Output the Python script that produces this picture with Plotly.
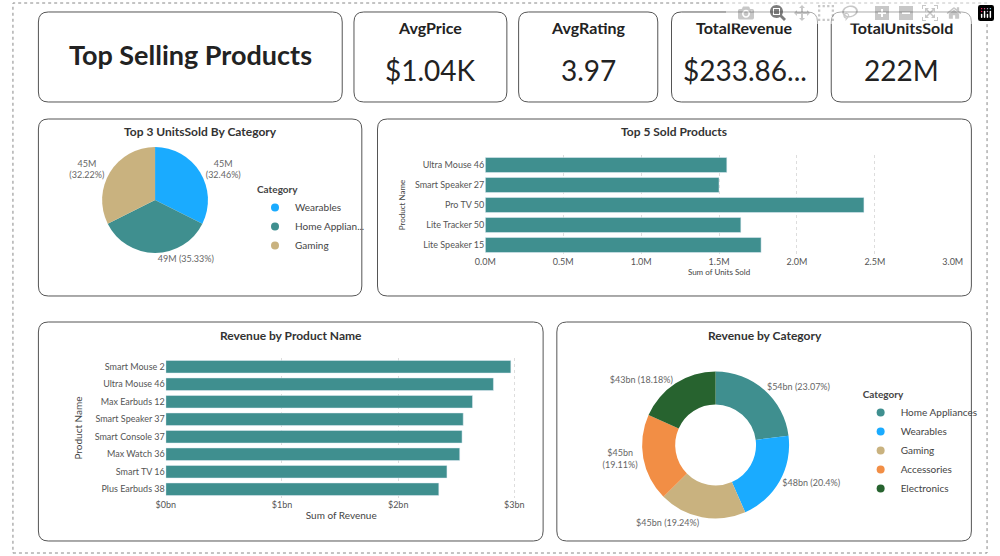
import plotly.graph_objects as go

W, H = 1000, 556
pie_labels = ["Wearables", "Home Appliances", "Gaming"]
pie_legend = ["Wearables", "Home Applian...", "Gaming"]
pie_values = [45, 49, 45]
pie_text = ["45M<br>(32.46%)", "49M (35.33%)", "45M<br>(32.22%)"]
pie_colors = ["#1AABFF", "#3F8F8F", "#C9B27F"]

top5_products = ["Ultra Mouse 46", "Smart Speaker 27", "Pro TV 50", "Lite Tracker 50", "Lite Speaker 15"]
top5_units = [1.55, 1.50, 2.43, 1.64, 1.77]
top5_ticks = [0, 0.5, 1.0, 1.5, 2.0, 2.5, 3.0]
top5_ticktext = ["0.0M", "0.5M", "1.0M", "1.5M", "2.0M", "2.5M", "3.0M"]

rev_products = ["Smart Mouse 2", "Ultra Mouse 46", "Max Earbuds 12", "Smart Speaker 37",
                "Smart Console 37", "Max Watch 36", "Smart TV 16", "Plus Earbuds 38"]
rev_values = [2.97, 2.82, 2.64, 2.56, 2.55, 2.53, 2.42, 2.35]
rev_ticks = [0, 1, 2, 3]
rev_ticktext = ["$0bn", "$1bn", "$2bn", "$3bn"]

cat_labels = ["Home Appliances", "Wearables", "Gaming", "Accessories", "Electronics"]
cat_values = [54, 48, 45, 45, 43]
cat_text = ["$54bn (23.07%)", "$48bn (20.4%)", "$45bn (19.24%)", "$45bn<br>(19.11%)", "$43bn (18.18%)"]
cat_colors = ["#3F8F8F", "#1AABFF", "#C9B27F", "#F28E45", "#27632F"]

cards = [("AvgPrice", "$1.04K", 351, 507), ("AvgRating", "3.97", 519, 661),
         ("TotalRevenue", "$233.86...", 675, 824), ("TotalUnitsSold", "222M", 838, 981)]

FONT = "Lato"
TEAL = "#3F8F8F"

def px(x): return x / W
def py(y): return 1 - y / H
def dx(x0, x1): return [px(x0), px(x1)]
def dy(y0, y1): return [py(y1), py(y0)]

def rrect(x0, y0, x1, y1, r=10):
    pts = lambda x, y: f"{px(x):.5f},{py(y):.5f}"
    return (f"M {pts(x0+r,y0)} L {pts(x1-r,y0)} Q {pts(x1,y0)} {pts(x1,y0+r)} "
            f"L {pts(x1,y1-r)} Q {pts(x1,y1)} {pts(x1-r,y1)} L {pts(x0+r,y1)} "
            f"Q {pts(x0,y1)} {pts(x0,y1-r)} L {pts(x0,y0+r)} Q {pts(x0,y0)} {pts(x0+r,y0)} Z")

fig = go.Figure()
fig.add_trace(go.Pie(labels=pie_labels, values=pie_values, text=pie_text, textinfo="text",
                     textposition="outside", marker=dict(colors=pie_colors), sort=False,
                     direction="clockwise", rotation=0, domain=dict(x=dx(94, 202), y=dy(146, 254)),
                     textfont=dict(size=9, color="#666"), showlegend=False))
fig.add_trace(go.Pie(labels=cat_labels, values=cat_values, text=cat_text, textinfo="text",
                     textposition="outside", marker=dict(colors=cat_colors), sort=False, hole=0.55,
                     direction="clockwise", rotation=0, domain=dict(x=dx(645, 795), y=dy(370, 520)),
                     textfont=dict(size=9, color="#666"), showlegend=False))
fig.add_trace(go.Bar(x=top5_units, y=top5_products, orientation="h", marker_color=TEAL,
                     width=0.75, xaxis="x", yaxis="y", showlegend=False))
fig.add_trace(go.Bar(x=rev_values, y=rev_products, orientation="h", marker_color=TEAL,
                     width=0.72, xaxis="x2", yaxis="y2", showlegend=False))
for lab, col in zip(pie_legend, pie_colors):
    fig.add_trace(go.Scatter(x=[None], y=[None], mode="markers", name=lab, legend="legend",
                             marker=dict(color=col, size=8, symbol="circle"), xaxis="x", yaxis="y"))
for lab, col in zip(cat_labels, cat_colors):
    fig.add_trace(go.Scatter(x=[None], y=[None], mode="markers", name=lab, legend="legend2",
                             marker=dict(color=col, size=8, symbol="circle"), xaxis="x", yaxis="y"))

shapes = [dict(type="rect", xref="paper", yref="paper", x0=px(3), x1=px(997), y0=py(553), y1=py(3),
               line=dict(color="#888", width=1, dash="dot"))]
for (x0, y0, x1, y1) in [(29, 12, 339, 102), (351, 12, 507, 102), (519, 12, 661, 102),
                         (675, 12, 824, 102), (838, 12, 981, 102), (29, 119, 359, 296),
                         (375, 119, 981, 296), (29, 322, 544, 541), (558, 322, 981, 541)]:
    shapes.append(dict(type="path", xref="paper", yref="paper", path=rrect(x0, y0, x1, y1),
                       line=dict(color="#555", width=1), fillcolor="white", layer="below"))

ann = [dict(text="<b>Top Selling Products</b>", x=px(184), y=py(54), font=dict(size=27, color="#222"))]
for lab, val, x0, x1 in cards:
    c = (x0 + x1) / 2
    ann.append(dict(text=f"<b>{lab}</b>", x=px(c), y=py(27), font=dict(size=16, color="#222")))
    ann.append(dict(text=val, x=px(c), y=py(70), font=dict(size=28, color="#222")))
for t, x, y in [("Top 3 UnitsSold By Category", 194, 132), ("Top 5 Sold Products", 678, 132),
                ("Revenue by Product Name", 287, 335), ("Revenue by Category", 770, 335)]:
    ann.append(dict(text=f"<b>{t}</b>", x=px(x), y=py(y), font=dict(size=12, color="#333")))
for a in ann:
    a.update(xref="paper", yref="paper", showarrow=False, xanchor="center", yanchor="middle")
    a["font"]["family"] = FONT

axfont = dict(size=9, color="#555", family=FONT)
fig.update_layout(
    width=W, height=H, margin=dict(l=0, r=0, t=0, b=0), paper_bgcolor="white", plot_bgcolor="white",
    font=dict(family=FONT), shapes=shapes, annotations=ann, bargap=0.25,
    xaxis=dict(domain=dx(485, 962), range=[0, 3.0], tickvals=top5_ticks, ticktext=top5_ticktext,
               showgrid=True, gridcolor="#ddd", griddash="dot", zeroline=False, tickfont=axfont,
               title=dict(text="Sum of Units Sold", font=dict(size=8, color="#444"), standoff=2),
               anchor="y"),
    yaxis=dict(domain=dy(155, 255), autorange="reversed", tickfont=axfont, anchor="x",
               title=dict(text="Product Name", font=dict(size=8, color="#444"), standoff=8)),
    xaxis2=dict(domain=dx(159, 517), range=[0, 3.02], tickvals=rev_ticks, ticktext=rev_ticktext,
                showgrid=True, gridcolor="#ddd", griddash="dot", zeroline=False, tickfont=axfont,
                title=dict(text="Sum of Revenue", font=dict(size=10, color="#444"), standoff=2),
                anchor="y2"),
    yaxis2=dict(domain=dy(358, 498), autorange="reversed", tickfont=axfont, anchor="x2",
                title=dict(text="Product Name", font=dict(size=10, color="#444"), standoff=10)),
    legend=dict(x=px(250), y=py(180), xanchor="left", yanchor="top", font=dict(size=10, color="#444"),
                title=dict(text="<b>Category</b>", font=dict(size=10, color="#444")),
                itemwidth=30, tracegroupgap=0, bgcolor="rgba(0,0,0,0)"),
    legend2=dict(x=px(868), y=py(385), xanchor="left", yanchor="top", font=dict(size=10, color="#444"),
                 title=dict(text="<b>Category</b>", font=dict(size=10, color="#444")),
                 itemwidth=30, bgcolor="rgba(0,0,0,0)"),
)
fig.write_html("out.html")
with open("out.html", encoding="utf-8") as f:
    html = f.read()
html = html.replace("<head>", "<head><style>html,body{margin:0;padding:0;overflow:hidden}</style>", 1)
with open("out.html", "w", encoding="utf-8") as f:
    f.write(html)
